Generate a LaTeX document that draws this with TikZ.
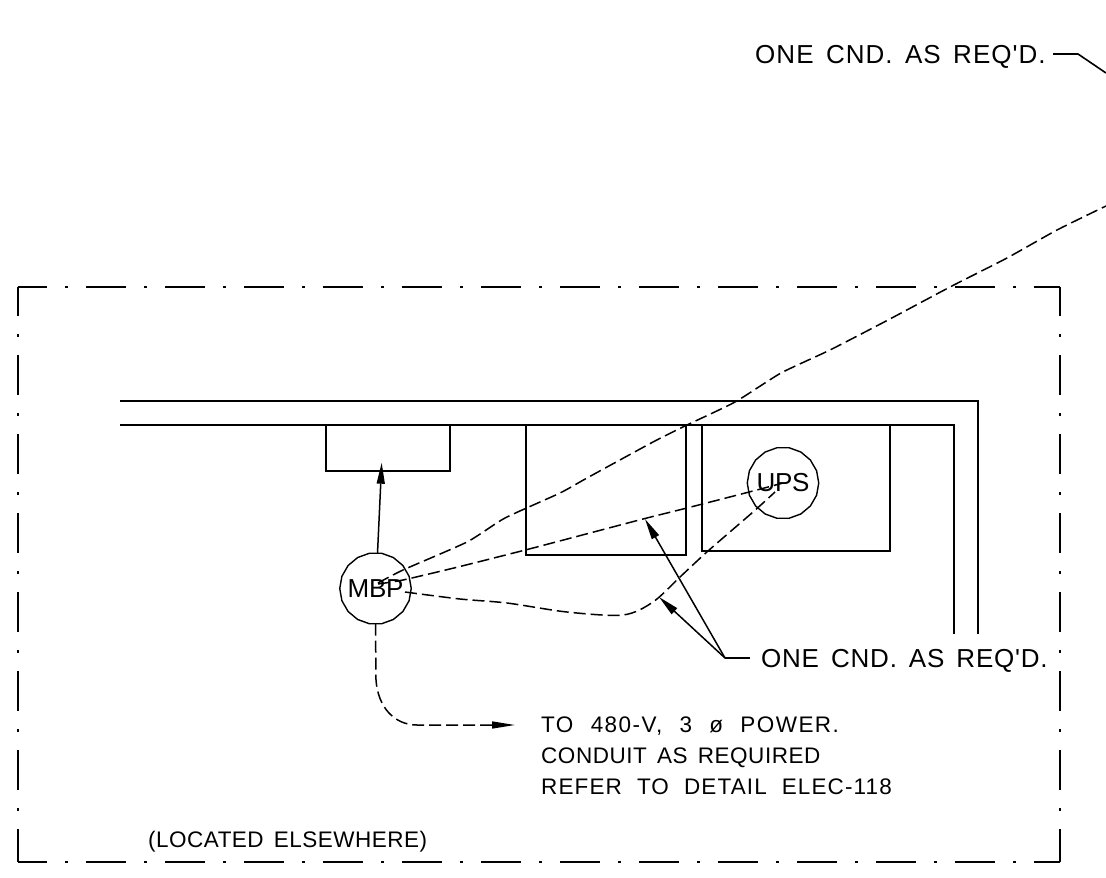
\documentclass[tikz,border=0pt]{standalone}
\usepackage{fontspec}
\usetikzlibrary{shapes.geometric,arrows.meta}
\newfontfamily\labelfont[LetterSpace=4,WordSpace=1.5]{Liberation Sans}
\newcommand{\wsp}[1]{\hspace{#1pt}}
\tikzset{
  wire/.style={line width=1.6pt,draw=black},
  phantomline/.style={line width=1.7pt,dash pattern=on 40pt off 18pt on 3pt off 18pt,dash phase=11pt},
  conduit/.style={line width=1.5pt,dash pattern=on 12pt off 5pt},
  leader/.style={line width=1.5pt,-{Triangle[length=21pt,width=8pt]}},
  bubble/.style={draw,line width=1.4pt,regular polygon,regular polygon sides=18,minimum size=71.5pt,inner sep=0pt,outer sep=0pt,font=\labelfont\fontsize{26}{26}\selectfont\addfontfeature{LetterSpace=-1}},
  biglabel/.style={anchor=base west,inner sep=0pt,font=\labelfont\fontsize{26}{26}\selectfont},
  smalllabel/.style={anchor=base west,inner sep=0pt,font=\labelfont\fontsize{22.5}{22.5}\selectfont},
  box/.style={draw,line width=1.6pt,minimum width=#1,inner sep=0pt,outer sep=0pt,anchor=north west}
}
\begin{document}
\begin{tikzpicture}[x=1pt,y=-1pt]
\useasboundingbox (0,0) rectangle (1106,878);
% border
\coordinate (tl) at (18,287); \coordinate (tr) at (1060,287);
\coordinate (bl) at (18,862); \coordinate (br) at (1060,862);
\draw[phantomline] (tl) -- (tr);
\draw[phantomline] (bl) -- (br);
\draw[phantomline] (tl) -- (bl);
\draw[phantomline] (tr) -- (br);
% walls
\coordinate (w1a) at (120,401); \coordinate (w1b) at (978,401); \coordinate (w1c) at (978,634);
\coordinate (w2a) at (120,425); \coordinate (w2b) at (954,425); \coordinate (w2c) at (954,634);
\draw[wire] (w1a) -- (w1b) -- (w1c);
\draw[wire] (w2a) -- (w2b) -- (w2c);
% equipment
\node[box=124pt,minimum height=46pt] (panel) at (326,425) {};
\node[box=160pt,minimum height=130pt] (eqa) at (526,425) {};
\node[box=188pt,minimum height=126pt] (eqb) at (702,425) {};
\node[bubble] (mbp) at (375.5,588.5) {\makebox[0pt]{MBP}};
\node[bubble] (ups) at (783,483) {\makebox[0pt]{UPS}};
% conduits
\coordinate (c1s) at (378,583); \coordinate (c1e) at (1106,206);
\coordinate (c2s) at (378,584); \coordinate (c2e) at (783,483);
\coordinate (c3s) at (405,592); \coordinate (c3e) at (775,492);
\draw[conduit] plot[smooth,tension=0.35] coordinates {(c1s) (403,570) (467,542) (505,518) (560,493) (587,478) (653,442) (687,425) (735,402) (781,373) (830,350) (888,320) (950,287) (1007,258) (1057,230) (c1e)};
\draw[conduit] plot[smooth,tension=0.35] coordinates {(c2s) (403,580) (458,567) (533,548) (643,519) (683,509) (753,491) (c2e)};
\draw[conduit] plot[smooth,tension=0.5] coordinates {(c3s) (460,599) (507,603) (567,612) (623,615) (653,602) (680,577) (708,551) (753,512) (c3e)};
% feed
\coordinate (feedt) at (515,725);
\draw[conduit] (mbp.south) -- (376,680) .. controls (378,708) and (395,725) .. (417,725) -- (495,725);
\draw[line width=1.5pt,-{Triangle[length=23pt,width=7pt]}] (493,725) -- (feedt);
% leaders
\coordinate (pt) at (381.7,462.7);
\draw[leader] ([xshift=2pt]mbp.north) -- (pt);
\coordinate (elbow) at (725,658);
\coordinate (lead1) at (645,519); \coordinate (lead2) at (659,597);
\draw[leader] (elbow) -- (lead1);
\draw[leader] (elbow) -- (lead2);
\node[biglabel] (lbl) at (761,667) {\addfontfeature{LetterSpace=3}ONE CND. AS REQ'D.};
\draw[wire] (elbow) -- (750,658);
\node[biglabel] (lbt) at (755,63) {ONE CND. AS REQ'D.};
\coordinate (lt1) at (1053,54); \coordinate (lt2) at (1078,54); \coordinate (lt3) at (1106,73);
\draw[wire] (lt1) -- (lt2) -- (lt3);
% notes
\node[smalllabel] (n1) at (541,732) {\addfontfeature{LetterSpace=6.5}TO\wsp{5.7} 480-V,\wsp{5.7} 3\wsp{5.7} ø\wsp{5.7} POWER.};
\node[smalllabel] (n2) at (541,763) {\addfontfeature{LetterSpace=2.4}CONDUIT AS REQUIRED};
\node[smalllabel] (n3) at (541,794) {\addfontfeature{LetterSpace=5}REFER\wsp{4} TO\wsp{4} DETAIL\wsp{4} ELEC-118};
\node[smalllabel] (n4) at (148,847) {\addfontfeature{LetterSpace=2.2}(LOCATED ELSEWHERE)};
\end{tikzpicture}
\end{document}
